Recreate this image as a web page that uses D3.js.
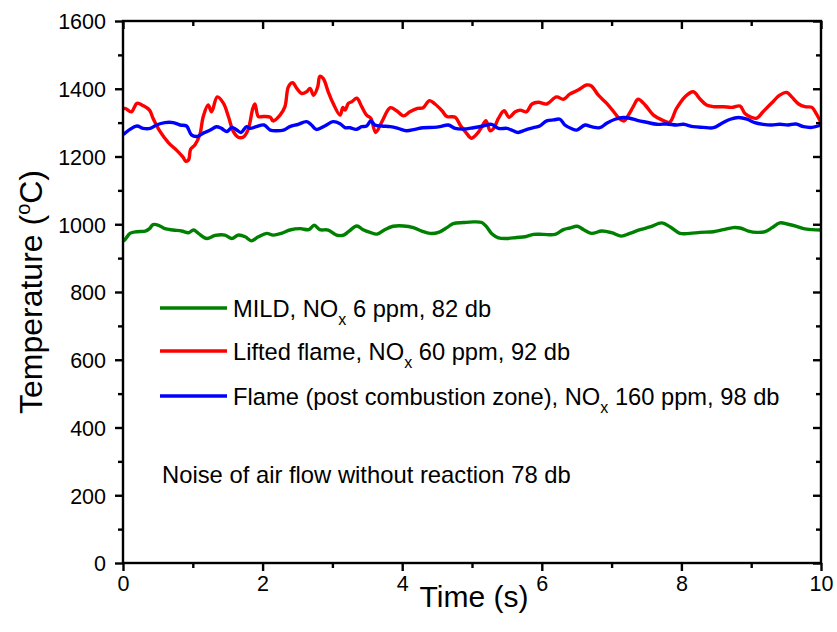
<!DOCTYPE html>
<html>
<head>
<meta charset="utf-8">
<script src="https://cdn.jsdelivr.net/npm/d3@7"></script>
<style>
  html, body { margin: 0; padding: 0; background: #fff; }
  svg { display: block; }
  text { font-family: "Liberation Sans", Arial, sans-serif; fill: #000; }
</style>
</head>
<body>
<svg id="chart" width="837" height="632"></svg>
<script>
// ---------------- data ----------------
const xTicks = [0, 2, 4, 6, 8, 10];
const yTicks = [0, 200, 400, 600, 800, 1000, 1200, 1400, 1600];

const timeRed = [0,0.03,0.12,0.2,0.29,0.38,0.43,0.53,0.65,0.77,0.86,0.9,0.94,0.97,1.03,1.1,1.15,1.22,1.27,1.35,1.44,1.51,1.58,1.65,1.72,1.79,1.86,1.89,1.94,2.01,2.11,2.15,2.25,2.32,2.37,2.43,2.49,2.56,2.63,2.68,2.73,2.79,2.82,2.87,2.94,3.01,3.11,3.15,3.18,3.23,3.28,3.35,3.42,3.49,3.55,3.62,3.71,3.83,3.92,4.02,4.11,4.22,4.3,4.39,4.47,4.57,4.64,4.76,4.83,4.92,4.99,5.08,5.14,5.2,5.26,5.31,5.38,5.46,5.53,5.62,5.69,5.78,5.86,5.95,6.07,6.21,6.31,6.4,6.52,6.64,6.71,6.81,6.93,7.05,7.12,7.18,7.24,7.31,7.38,7.48,7.6,7.72,7.83,7.93,8.05,8.17,8.27,8.36,8.46,8.6,8.72,8.84,8.91,9.01,9.08,9.17,9.29,9.41,9.51,9.58,9.68,9.77,9.87,9.93,10];
const tempRed = [1340,1342,1332,1357,1350,1337,1313,1274,1241,1218,1198,1186,1190,1222,1234,1264,1318,1352,1332,1376,1357,1318,1274,1257,1257,1278,1342,1355,1318,1318,1316,1305,1322,1347,1406,1418,1401,1386,1391,1401,1381,1406,1437,1430,1391,1357,1322,1345,1337,1357,1362,1372,1347,1322,1313,1271,1303,1344,1335,1320,1332,1342,1344,1365,1355,1335,1318,1316,1293,1269,1254,1269,1288,1306,1276,1283,1313,1335,1316,1332,1337,1332,1355,1360,1355,1376,1369,1384,1396,1411,1408,1381,1357,1327,1310,1305,1322,1347,1369,1352,1322,1308,1301,1342,1376,1391,1369,1352,1347,1347,1345,1349,1327,1315,1313,1332,1357,1381,1389,1376,1355,1347,1345,1327,1300];

const timeBlue = [0,0.03,0.1,0.2,0.29,0.39,0.48,0.6,0.72,0.82,0.91,0.98,1.06,1.15,1.25,1.34,1.41,1.49,1.56,1.62,1.69,1.77,1.82,1.91,2.02,2.11,2.2,2.3,2.39,2.51,2.63,2.7,2.77,2.89,3.01,3.11,3.18,3.25,3.34,3.42,3.49,3.55,3.61,3.71,3.83,3.94,4.06,4.18,4.3,4.45,4.54,4.66,4.76,4.88,5.02,5.16,5.28,5.38,5.5,5.57,5.66,5.76,5.88,5.97,6.07,6.17,6.26,6.33,6.43,6.5,6.62,6.71,6.83,6.93,7.05,7.17,7.26,7.38,7.5,7.65,7.79,7.93,8.03,8.17,8.31,8.46,8.58,8.7,8.82,8.94,9.05,9.17,9.29,9.41,9.53,9.64,9.75,9.87,10];
const tempBlue = [1265,1269,1280,1290,1283,1283,1293,1300,1300,1293,1290,1264,1259,1269,1278,1288,1283,1274,1286,1280,1271,1288,1283,1288,1293,1278,1276,1278,1288,1295,1303,1293,1280,1290,1303,1297,1285,1285,1280,1288,1290,1305,1293,1290,1288,1283,1276,1280,1285,1286,1288,1293,1283,1281,1285,1290,1295,1283,1283,1278,1271,1278,1285,1290,1305,1308,1310,1293,1282,1278,1293,1288,1285,1298,1310,1315,1313,1306,1301,1295,1296,1293,1295,1288,1286,1285,1298,1310,1315,1310,1300,1295,1293,1295,1293,1296,1288,1286,1293];

const timeGreen = [0,0.03,0.1,0.2,0.32,0.38,0.43,0.51,0.6,0.72,0.84,0.94,1.01,1.08,1.2,1.32,1.46,1.56,1.65,1.75,1.84,1.94,2.06,2.15,2.27,2.39,2.54,2.66,2.74,2.82,2.94,3.06,3.16,3.23,3.35,3.44,3.54,3.64,3.75,3.87,4.02,4.16,4.28,4.4,4.52,4.64,4.73,4.88,5.02,5.14,5.21,5.28,5.38,5.5,5.64,5.76,5.88,6.02,6.19,6.31,6.4,6.51,6.6,6.71,6.86,7.0,7.14,7.26,7.41,7.55,7.72,7.84,7.98,8.12,8.27,8.46,8.6,8.74,8.84,8.96,9.08,9.2,9.3,9.41,9.53,9.65,9.75,9.87,10];
const tempGreen = [950,955,973,978,980,987,999,997,987,983,980,975,983,973,958,967,968,958,968,963,951,963,973,968,973,983,987,984,997,984,983,968,968,978,995,984,976,971,984,994,995,990,980,973,976,990,1002,1005,1007,1005,992,973,960,958,961,963,970,970,970,984,989,994,984,973,980,975,965,973,984,992,1004,992,973,973,976,978,984,990,989,980,976,978,990,1004,1000,994,987,984,983];

const seriesNames = ["MILD", "Lifted flame", "Flame"];
const seriesColors = ["#008000", "#ff0000", "#0000ff"];
const legendLabels = [
  ["MILD, NO", "x", " 6 ppm, 82 db"],
  ["Lifted flame, NO", "x", " 60 ppm, 92 db"],
  ["Flame (post combustion zone), NO", "x", " 160 ppm, 98 db"]
];
const noteText = "Noise of air flow without reaction 78 db";
const xTitle = "Time (s)";

// ---------------- layout ----------------
const svg = d3.select("#chart");
const L = 123, R = 821, T = 21, B = 563;

const x = d3.scaleLinear().domain([0, 10]).range([L, R]);
const y = d3.scaleLinear().domain([0, 1600]).range([B, T]);

const series = [
  { t: timeGreen, v: tempGreen },
  { t: timeRed, v: tempRed },
  { t: timeBlue, v: tempBlue }
];

svg.append("clipPath").attr("id", "clip")
  .append("rect").attr("x", L).attr("y", T).attr("width", R - L).attr("height", B - T);

const line = d3.line().x(d => x(d[0])).y(d => y(d[1])).curve(d3.curveCatmullRom.alpha(0.5));

[0, 1, 2].forEach(i => {
  const s = series[i];
  const pts = s.t.map((t, k) => [t, s.v[k]]);
  svg.append("path")
    .attr("clip-path", "url(#clip)")
    .attr("d", line(pts))
    .attr("fill", "none")
    .attr("stroke", seriesColors[i])
    .attr("stroke-width", 3.4)
    .attr("stroke-linejoin", "round")
    .attr("stroke-linecap", "round");
});

// axes
const axisW = 2.4;
const fontTick = 21.5;

const gBottom = svg.append("g").attr("transform", `translate(0,${B})`)
  .call(d3.axisBottom(x).tickValues(d3.range(0, 10.01, 1)).tickSize(8).tickFormat(""));
gBottom.selectAll(".tick").filter(d => Math.round(d) % 2 === 1).select("line").attr("y2", 5);
gBottom.selectAll(".tick").filter(d => xTicks.includes(Math.round(d)))
  .append("text").attr("y", 28).attr("text-anchor", "middle")
  .style("font-size", fontTick + "px").text(d => d3.format("d")(d));

const gTop = svg.append("g").attr("transform", `translate(0,${T})`)
  .call(d3.axisBottom(x).tickValues(d3.range(0, 10.01, 1)).tickSize(8).tickFormat(""));
gTop.selectAll(".tick").filter(d => Math.round(d) % 2 === 1).select("line").attr("y2", 5);

const gLeft = svg.append("g").attr("transform", `translate(${L},0)`)
  .call(d3.axisLeft(y).tickValues(d3.range(0, 1601, 100)).tickSize(8).tickFormat(""));
gLeft.selectAll(".tick").filter(d => d % 200 !== 0).select("line").attr("x2", -5);
gLeft.selectAll(".tick").filter(d => yTicks.includes(d))
  .append("text").attr("x", -17).attr("dy", "0.36em").attr("text-anchor", "end")
  .style("font-size", fontTick + "px").text(d => d);

const gRight = svg.append("g").attr("transform", `translate(${R},0)`)
  .call(d3.axisLeft(y).tickValues(d3.range(0, 1601, 100)).tickSize(8).tickFormat(""));
gRight.selectAll(".tick").filter(d => d % 200 !== 0).select("line").attr("x2", -5);

[gBottom, gTop, gLeft, gRight].forEach(g => {
  g.select(".domain").remove();
  g.selectAll(".tick line").attr("stroke", "#000").attr("stroke-width", axisW);
  g.selectAll("text").attr("fill", "#000");
});

svg.append("rect").attr("x", L).attr("y", T).attr("width", R - L).attr("height", B - T)
  .attr("fill", "none").attr("stroke", "#000").attr("stroke-width", axisW);

// axis titles
svg.append("text").attr("x", (L + R) / 2 + 2).attr("y", 607).attr("text-anchor", "middle")
  .style("font-size", "30px").text(xTitle);

const yt = svg.append("text")
  .attr("transform", `translate(42,${(T + B) / 2}) rotate(-90)`)
  .attr("text-anchor", "middle").style("font-size", "32px");
yt.append("tspan").text("Temperature (");
yt.append("tspan").attr("dy", -12).style("font-size", "20px").text("o");
yt.append("tspan").attr("dy", 12).text("C)");

// legend
const legY = [308, 351, 396];
legendLabels.forEach((lab, i) => {
  svg.append("line").attr("x1", 160).attr("x2", 227)
    .attr("y1", legY[i]).attr("y2", legY[i])
    .attr("stroke", seriesColors[i]).attr("stroke-width", 3.4);
  const t = svg.append("text").attr("x", 233).attr("y", legY[i] + 9)
    .style("font-size", "23.7px");
  t.append("tspan").text(lab[0]);
  t.append("tspan").attr("dy", 8).style("font-size", "16px").text(lab[1]);
  t.append("tspan").attr("dy", -8).text(lab[2]);
});

svg.append("text").attr("x", 162).attr("y", 483).style("font-size", "23.8px").text(noteText);
</script>
</body>
</html>
